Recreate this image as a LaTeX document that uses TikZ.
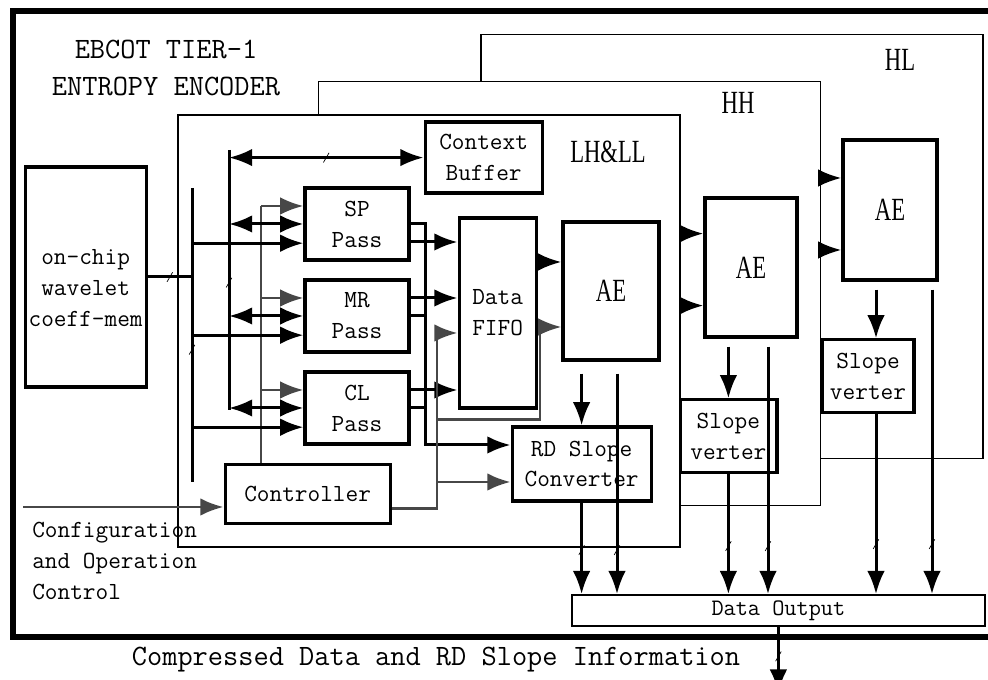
\documentclass[tikz,border=0pt]{standalone}
\usepackage{fontspec}
\usetikzlibrary{arrows.meta,decorations.markings}
\newfontfamily\lblfont[FakeStretch=0.7]{Liberation Serif}

\begin{document}
\begin{tikzpicture}[>={Latex[length=0.58cm,width=0.44cm]},
    txt/.style={font=\ttfamily\fontsize{17.5}{22}\selectfont, align=center, inner sep=0pt},
    ttl/.style={font=\ttfamily\fontsize{21}{26.5}\selectfont, align=center, inner sep=0pt},
    big/.style={font=\lblfont\fontsize{23}{26}\selectfont, inner sep=0pt},
    blk/.style={draw, line width=0.08cm, txt},
    layer/.style={draw, line width=0.04cm, fill=white, minimum width=12.55cm, minimum height=10.6cm},
    wire/.style={line width=0.075cm},
    ctl/.style={line width=0.07cm, black!72},
    slash/.style={postaction={decorate, decoration={markings, mark=at position #1 with {\pgftransformresetnontranslations \draw[line width=0.5pt, black, -] (-0.07,-0.12) -- (0.07,0.12);}}}}]

        \useasboundingbox (0,0) rectangle (24.7,17);

        % 1. Cornice esterna (il lato destro esce dalla pagina)
        \draw[line width=0.15cm] (24.9,16.725) -- (0.325,16.725) -- (0.325,1.075) -- (24.9,1.075);
        \node[ttl] (title) at (4.15,15.3) {EBCOT TIER-1\\ENTROPY ENCODER};

        % 2. Uscita dati
        \node[draw, line width=0.04cm, minimum width=10.325cm, minimum height=0.775cm, txt, font=\ttfamily\fontsize{16.8}{20}\selectfont] (out) at (19.46,1.74) {Data Output};
        \coordinate (sink) at ([yshift=-1.65cm]out.south);
        \draw[wire,->,slash=0.45] (out.south) -- (sink);
        \node[ttl] (caption) at (10.9,0.5) {Compressed Data and RD Slope Information};

        % 3. Livello HL
        \node[layer] (hl) at (18.3,10.84) {};
        \node[big] (hllab) at (22.5,15.5) {HL};
        \node[blk, big, minimum width=2.35cm, minimum height=3.5cm] (ae3) at (22.25,11.75) {AE};
        \node[blk, minimum width=2.3cm, minimum height=1.825cm] (sl3) at (21.7,7.59) {Slope\\verter};
        \coordinate (s3) at ([xshift=0.2cm]sl3.north);
        \draw[wire,->] ([yshift=-0.2cm]ae3.south -| s3) -- (s3);
        \draw[wire,->,slash=-1.25cm] ([xshift=1.05cm,yshift=-0.2cm]ae3.south) -- ([xshift=1.05cm]ae3.south |- out.north);
        \draw[wire,->,slash=-1.25cm] ([xshift=0.2cm]sl3.south) -- ([xshift=0.2cm]sl3.south |- out.north);

        % 4. Livello HH
        \node[layer] (hh) at (14.24,9.66) {};
        \node[big] (hhlab) at (18.45,14.425) {HH};
        \draw[wire,->] ([yshift=0.8cm]ae3.west -| hh.east) -- ([yshift=0.8cm]ae3.west);
        \draw[wire,->] ([yshift=-1cm]ae3.west -| hh.east) -- ([yshift=-1cm]ae3.west);
        \node[blk, big, minimum width=2.3cm, minimum height=3.475cm] (ae2) at (18.775,10.31) {AE};
        \node[blk, minimum width=2.425cm, minimum height=1.825cm] (sl2) at (18.21,6.09) {Slope\\verter};
        \draw[wire,->] ([yshift=-0.2cm]ae2.south -| sl2.north) -- (sl2.north);
        \draw[wire,->,slash=-1.2cm] ([xshift=0.425cm,yshift=-0.2cm]ae2.south) -- ([xshift=0.425cm]ae2.south |- out.north);
        \draw[wire,->,slash=-1.2cm] (sl2.south) -- (sl2.south |- out.north);

        % 5. Livello LH&LL
        \node[layer, minimum height=10.8cm] (lh) at (10.725,8.725) {};
        \node[big] (lhlab) at (15.2,13.2) {LH\&LL};
        \draw[wire,->] ([yshift=0.85cm]ae2.west -| lh.east) -- ([yshift=0.85cm]ae2.west);
        \draw[wire,->] ([yshift=-0.95cm]ae2.west -| lh.east) -- ([yshift=-0.95cm]ae2.west);

        % 6. Blocchi
        \node[blk, minimum width=3.025cm, minimum height=5.5cm] (mem) at (2.14,10.075) {};
        \node[txt] (memtxt) at ([yshift=-0.27cm]mem.center) {on-chip\\wavelet\\coeff-mem};
        \node[blk, minimum width=2.925cm, minimum height=1.775cm] (ctx) at (12.09,13.06) {Context\\Buffer};
        \node[blk, minimum width=2.6cm, minimum height=1.8cm] (sp) at (8.925,11.4) {SP\\Pass};
        \node[blk, minimum width=2.6cm, minimum height=1.8cm] (mr) at (8.925,9.1) {MR\\Pass};
        \node[blk, minimum width=2.6cm, minimum height=1.8cm] (cl) at (8.925,6.8) {CL\\Pass};
        \node[blk, minimum width=1.925cm, minimum height=4.75cm] (fifo) at (12.44,9.175) {Data\\FIFO};
        \node[blk, big, minimum width=2.4cm, minimum height=3.45cm] (ae1) at (15.275,9.725) {AE};
        \node[blk, minimum width=3.475cm, minimum height=1.85cm] (rd) at (14.54,5.4) {RD Slope\\Converter};
        \node[blk, minimum width=4.125cm, minimum height=1.475cm] (ctrl) at (7.69,4.64) {Controller};
        \node[txt, align=left, anchor=west] (cfgtxt) at (0.8,2.975) {Configuration\\and Operation\\Control};

        % 7. Bus verticali
        \coordinate (busAtop) at (4.8,12.3);
        \coordinate (busAbot) at (4.8,4.95);
        \coordinate (busBtop) at (5.725,13.25);
        \coordinate (busBbot) at (5.725,6.75);
        \coordinate (busC) at (6.525,11.85);
        \coordinate (xm) at (10.625,0);
        \coordinate (xg) at (10.925,0);
        \coordinate (xf) at (13.5,0);
        \coordinate (cfg) at (0.575,4.325);
        \draw[wire,slash=0.5] (mem.east) -- (mem.east -| busAtop);
        \draw[wire,slash=0.55] (busAtop) -- (busAbot);
        \draw[wire,slash=0.51] (busBtop) -- (busBbot);
        \draw[ctl] (busC) -- (busC |- ctrl.north);
        \draw[wire,<->,slash=0.5] (ctx.west -| busBtop) -- (ctx.west);

        % 8. Ingressi dei pass
        \draw[wire,->] ([yshift=-0.48cm]sp.west -| busAtop) -- ([yshift=-0.48cm]sp.west);
        \draw[wire,->] ([yshift=-0.48cm]mr.west -| busAtop) -- ([yshift=-0.48cm]mr.west);
        \draw[wire,->] ([yshift=-0.48cm]cl.west -| busAtop) -- ([yshift=-0.48cm]cl.west);
        \draw[wire,<->] (sp.west -| busBtop) -- (sp.west);
        \draw[wire,<->] (mr.west -| busBtop) -- (mr.west);
        \draw[wire,<->] (cl.west -| busBtop) -- (cl.west);
        \draw[ctl,->] ([yshift=0.45cm]sp.west -| busC) -- ([yshift=0.45cm]sp.west);
        \draw[ctl,->] ([yshift=0.45cm]mr.west -| busC) -- ([yshift=0.45cm]mr.west);
        \draw[ctl,->] ([yshift=0.45cm]cl.west -| busC) -- ([yshift=0.45cm]cl.west);

        % 9. Uscite dei pass
        \draw[wire,->] ([yshift=-0.45cm]sp.east) -- ([yshift=-0.45cm]sp.east -| fifo.west);
        \draw[wire,->] ([yshift=0.45cm]mr.east) -- ([yshift=0.45cm]mr.east -| fifo.west);
        \draw[wire,->] ([yshift=0.45cm]cl.east) -- ([yshift=0.45cm]cl.east -| fifo.west);
        \draw[wire] (mr.east) -- (mr.east -| xm);
        \draw[wire] (cl.east) -- (cl.east -| xm);
        \draw[wire,->] (sp.east) -| ([yshift=0.475cm]rd.west -| xm) -- ([yshift=0.475cm]rd.west);

        % 10. Controllo (grigio)
        \draw[ctl,->] (cfg) -- (cfg -| ctrl.west);
        \draw[ctl,->] ([yshift=-0.35cm]ctrl.east) -| ([yshift=-0.5cm]fifo.west -| xg) -- ([yshift=-0.5cm]fifo.west);
        \draw[ctl,->] ([yshift=-0.45cm]rd.west -| xg) -- ([yshift=-0.45cm]rd.west);
        \draw[ctl,->] ([yshift=-0.25cm]fifo.south -| xg) -| ([yshift=-0.9cm]ae1.west -| xf) -- ([yshift=-0.9cm]ae1.west);

        % 11. FIFO -> AE -> RD Slope -> Data Output
        \draw[wire,->] ([yshift=0.725cm]ae1.west -| fifo.east) -- ([yshift=0.725cm]ae1.west);
        \draw[wire,->] ([yshift=-0.3cm]ae1.south -| rd.north) -- (rd.north);
        \draw[wire,->,slash=-1.1cm] ([xshift=0.15cm,yshift=-0.3cm]ae1.south) -- ([xshift=0.15cm]ae1.south |- out.north);
        \draw[wire,->,slash=-1.1cm] (rd.south) -- (rd.south |- out.north);

    \end{tikzpicture}
\end{document}
